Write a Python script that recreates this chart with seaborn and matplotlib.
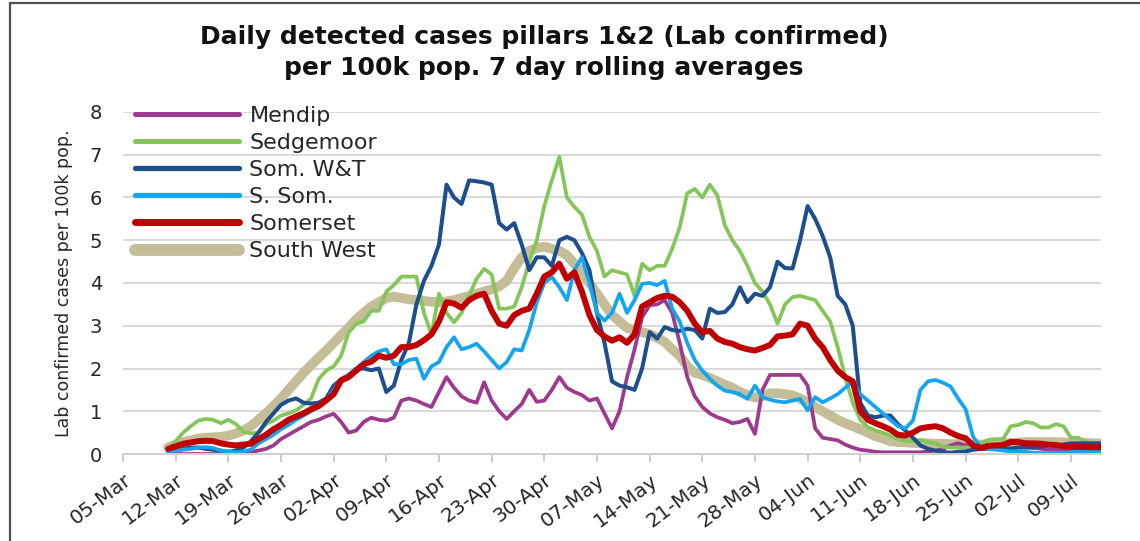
import pandas as pd
import matplotlib
matplotlib.use("Agg")
import matplotlib.pyplot as plt
import seaborn as sns
from matplotlib.lines import Line2D

# daily values 11-Mar .. 13-Jul (7 day rolling averages per 100k)
dates = pd.date_range("2020-03-11", "2020-07-13", freq="D")

mendip = [0, 0, 0, 0, 0, 0, 0, 0, 0, 0,
          0.02, 0.05, 0.08, 0.12, 0.2, 0.35, 0.45, 0.55, 0.65, 0.75,
          0.8, 0.88, 0.94, 0.75, 0.5, 0.55, 0.75, 0.85, 0.8, 0.78,
          0.85, 1.25, 1.3, 1.25, 1.17, 1.1, 1.45, 1.8, 1.55, 1.35,
          1.25, 1.2, 1.68, 1.25, 1.0, 0.82, 1.0, 1.17, 1.5, 1.22,
          1.25, 1.5, 1.8, 1.55, 1.45, 1.38, 1.25, 1.3, 0.95, 0.6,
          1.0, 1.8, 2.45, 3.2, 3.48, 3.5, 3.6, 3.3, 2.6, 1.8,
          1.35, 1.1, 0.95, 0.86, 0.8, 0.72, 0.75, 0.82, 0.47, 1.5,
          1.85, 1.85, 1.85, 1.85, 1.85, 1.6, 0.6, 0.38, 0.35, 0.32,
          0.22, 0.15, 0.1, 0.08, 0.05, 0.04, 0.04, 0.04, 0.04, 0.04,
          0.04, 0.06, 0.08, 0.12, 0.2, 0.25, 0.2, 0.15, 0.15, 0.18,
          0.2, 0.25, 0.3, 0.25, 0.2, 0.15, 0.12, 0.1, 0.1, 0.08,
          0.08, 0.08, 0.08, 0.08, 0.08]

sedgemoor = [0.12, 0.3, 0.5, 0.65, 0.78, 0.82, 0.8, 0.72, 0.8, 0.7,
             0.52, 0.48, 0.5, 0.7, 0.78, 0.9, 0.95, 1.02, 1.15, 1.3,
             1.75, 1.95, 2.05, 2.3, 2.85, 3.05, 3.1, 3.35, 3.35, 3.8,
             3.95, 4.15, 4.15, 4.15, 3.3, 2.8, 3.75, 3.3, 3.08, 3.3,
             3.7, 4.1, 4.33, 4.2, 3.4, 3.4, 3.45, 3.9, 4.5, 5.0,
             5.8, 6.4, 6.95, 6.0, 5.78, 5.6, 5.08, 4.75, 4.15, 4.3,
             4.25, 4.2, 3.7, 4.45, 4.3, 4.4, 4.4, 4.8, 5.3, 6.1,
             6.2, 6.0, 6.3, 6.05, 5.35, 5.0, 4.75, 4.4, 4.0, 3.8,
             3.5, 3.05, 3.5, 3.67, 3.7, 3.65, 3.6, 3.35, 3.1, 2.5,
             1.8, 1.2, 0.8, 0.63, 0.55, 0.5, 0.43, 0.35, 0.3, 0.3,
             0.33, 0.28, 0.25, 0.17, 0.15, 0.15, 0.15, 0.17, 0.25, 0.33,
             0.35, 0.35, 0.65, 0.68, 0.75, 0.72, 0.62, 0.62, 0.7, 0.65,
             0.38, 0.38, 0.28, 0.25, 0.25]

som_wt = [0.08, 0.1, 0.12, 0.15, 0.15, 0.12, 0.1, 0.08, 0.05, 0.08,
          0.15, 0.3, 0.5, 0.75, 0.95, 1.15, 1.25, 1.3, 1.2, 1.18,
          1.2, 1.3, 1.6, 1.75, 1.85, 2.0, 2.0, 1.96, 2.0, 1.45,
          1.6, 2.2, 2.6, 3.5, 4.05, 4.4, 4.9, 6.3, 6.0, 5.85,
          6.4, 6.38, 6.35, 6.3, 5.4, 5.25, 5.4, 4.9, 4.3, 4.6,
          4.6, 4.4, 5.0, 5.08, 5.0, 4.7, 4.3, 3.3, 2.6, 1.7,
          1.6, 1.56, 1.5, 2.0, 2.85, 2.7, 2.97, 2.9, 2.88, 2.93,
          2.9, 2.7, 3.4, 3.3, 3.32, 3.5, 3.9, 3.55, 3.75, 3.7,
          3.9, 4.5, 4.35, 4.34, 5.0, 5.8, 5.5, 5.1, 4.6, 3.7,
          3.5, 3.0, 1.2, 0.9, 0.86, 0.9, 0.9, 0.7, 0.55, 0.38,
          0.2, 0.12, 0.08, 0.05, 0.03, 0.05, 0.06, 0.1, 0.12, 0.12,
          0.12, 0.12, 0.13, 0.15, 0.15, 0.15, 0.17, 0.2, 0.2, 0.22,
          0.25, 0.25, 0.25, 0.25, 0.25]

s_som = [0.05, 0.08, 0.1, 0.12, 0.15, 0.16, 0.14, 0.08, 0.06, 0.04,
         0.06, 0.1, 0.25, 0.35, 0.45, 0.58, 0.68, 0.8, 0.9, 1.0,
         1.1, 1.25, 1.5, 1.75, 1.85, 2.0, 2.15, 2.3, 2.4, 2.45,
         2.1, 2.1, 2.2, 2.23, 1.76, 2.05, 2.15, 2.5, 2.73, 2.45,
         2.5, 2.58, 2.4, 2.2, 2.0, 2.15, 2.45, 2.42, 2.9, 3.55,
         4.0, 4.14, 3.9, 3.6, 4.3, 4.6, 4.0, 3.3, 3.12, 3.3,
         3.75, 3.3, 3.6, 3.98, 4.0, 3.95, 4.05, 3.4, 3.1, 2.6,
         2.2, 1.95, 1.76, 1.6, 1.48, 1.45, 1.4, 1.29, 1.6, 1.33,
         1.27, 1.23, 1.21, 1.25, 1.29, 1.02, 1.33, 1.21, 1.3, 1.4,
         1.55, 1.7, 1.4, 1.25, 1.1, 0.95, 0.8, 0.65, 0.6, 0.78,
         1.5, 1.7, 1.73, 1.67, 1.58, 1.3, 1.05, 0.4, 0.17, 0.12,
         0.1, 0.08, 0.06, 0.06, 0.05, 0.03, 0.02, 0.02, 0.02, 0.03,
         0.04, 0.05, 0.05, 0.06, 0.06]

somerset = [0.12, 0.18, 0.24, 0.27, 0.3, 0.31, 0.3, 0.25, 0.22, 0.2,
            0.22, 0.24, 0.35, 0.45, 0.58, 0.68, 0.8, 0.88, 0.95, 1.05,
            1.12, 1.25, 1.4, 1.72, 1.8, 1.95, 2.1, 2.16, 2.3, 2.25,
            2.3, 2.5, 2.5, 2.55, 2.66, 2.8, 3.1, 3.55, 3.52, 3.42,
            3.6, 3.7, 3.75, 3.35, 3.05, 3.0, 3.25, 3.35, 3.4, 3.75,
            4.15, 4.25, 4.45, 4.1, 4.25, 3.8, 3.25, 2.9, 2.75, 2.65,
            2.73, 2.6, 2.8, 3.45, 3.55, 3.65, 3.7, 3.68, 3.55, 3.35,
            3.05, 2.85, 2.88, 2.7, 2.62, 2.58, 2.5, 2.45, 2.42, 2.48,
            2.55, 2.75, 2.77, 2.8, 3.05, 3.0, 2.7, 2.5, 2.2, 1.95,
            1.8, 1.7, 1.0, 0.8, 0.72, 0.65, 0.57, 0.45, 0.43, 0.5,
            0.6, 0.63, 0.65, 0.6, 0.5, 0.42, 0.37, 0.2, 0.14, 0.19,
            0.2, 0.21, 0.28, 0.28, 0.25, 0.25, 0.24, 0.22, 0.21, 0.18,
            0.17, 0.17, 0.16, 0.16, 0.16]

south_west = [0.15, 0.22, 0.28, 0.32, 0.36, 0.38, 0.39, 0.4, 0.43, 0.48,
              0.55, 0.65, 0.8, 0.95, 1.12, 1.3, 1.5, 1.7, 1.9, 2.08,
              2.25, 2.42, 2.6, 2.78, 2.95, 3.15, 3.3, 3.45, 3.55, 3.65,
              3.68, 3.65, 3.62, 3.6, 3.58, 3.56, 3.55, 3.57, 3.6, 3.65,
              3.7, 3.75, 3.8, 3.85, 3.92, 4.05, 4.35, 4.6, 4.75, 4.82,
              4.85, 4.8, 4.75, 4.65, 4.45, 4.25, 4.0, 3.75, 3.5, 3.25,
              3.1, 2.95, 2.9, 2.85, 2.8, 2.72, 2.62, 2.45, 2.3, 2.05,
              1.9, 1.85, 1.78, 1.7, 1.62, 1.55, 1.45, 1.38, 1.32, 1.35,
              1.42, 1.42, 1.4, 1.37, 1.3, 1.2, 1.1, 1.0, 0.9, 0.8,
              0.72, 0.65, 0.58, 0.5, 0.42, 0.36, 0.3, 0.28, 0.27, 0.26,
              0.25, 0.25, 0.24, 0.24, 0.23, 0.23, 0.22, 0.22, 0.22, 0.23,
              0.24, 0.25, 0.26, 0.27, 0.28, 0.28, 0.28, 0.28, 0.28, 0.27,
              0.27, 0.26, 0.26, 0.25, 0.25]

labels = ["Mendip", "Sedgemoor", "Som. W&T", "S. Som.", "Somerset", "South West"]
series = [mendip, sedgemoor, som_wt, s_som, somerset, south_west]
colors = ["#9E3A8E", "#84C65A", "#1F4E8C", "#14A5F0", "#C00000", "#C4BD97"]
widths = [2.7, 2.7, 2.9, 2.7, 4.3, 7.0]
legend_widths = [3.6, 3.6, 3.8, 3.8, 5.0, 8.5]

sns.set_theme(style="white")
plt.rcParams["font.family"] = ["DejaVu Sans"]

fig = plt.figure(figsize=(11.4, 5.41), dpi=100)
ax = fig.add_axes([0.1079, 0.1608, 0.8579, 0.6322])

# South West drawn first so it sits underneath
draw_order = [5, 0, 1, 2, 3, 4]
for i in draw_order:
    sns.lineplot(x=dates, y=series[i], ax=ax, color=colors[i], linewidth=widths[i],
                 solid_joinstyle="round", solid_capstyle="round")

ax.set_xlim(pd.Timestamp("2020-03-05"), pd.Timestamp("2020-07-13"))
ax.set_ylim(0, 8)
ax.set_yticks(range(0, 9))
ax.yaxis.grid(True, color="#D9D9D9", linewidth=1.4)
ax.xaxis.grid(False)
for s in ["left", "top", "right"]:
    ax.spines[s].set_visible(False)
ax.spines["bottom"].set_color("#D0D0D0")
ax.spines["bottom"].set_linewidth(1.4)

ticks = pd.date_range("2020-03-05", "2020-07-09", freq="7D")
ax.set_xticks(ticks)
ax.set_xticklabels([d.strftime("%d-%b") for d in ticks], rotation=37, ha="right",
                   rotation_mode="anchor")
ax.tick_params(axis="x", length=6, color="#C8C8C8", width=1.3, pad=6, labelsize=14.5,
               labelcolor="#262626", bottom=True)
ax.tick_params(axis="y", length=0, pad=15, labelsize=14, labelcolor="#262626")
ax.set_xlabel("")
ax.set_ylabel("")

fig.text(64 / 1140, 1 - 283 / 541, "Lab confirmed cases per 100k pop.", rotation=90,
         ha="center", va="center", fontsize=12.5, color="#262626")

fig.text(544 / 1140, 1 - 37 / 541, "Daily detected cases pillars 1&2 (Lab confirmed)",
         ha="center", va="center", fontsize=18, fontweight="bold", color="#111111")
fig.text(544 / 1140, 1 - 68 / 541, "per 100k pop. 7 day rolling averages",
         ha="center", va="center", fontsize=18, fontweight="bold", color="#111111")

handles = [Line2D([0], [0], color=c, lw=w) for c, w in zip(colors, legend_widths)]
ax.legend(handles, labels, loc="upper left", bbox_to_anchor=(0.0123, 1.018),
          frameon=False, fontsize=16, handlelength=4.7, handletextpad=0.45,
          labelspacing=0.32, borderpad=0, borderaxespad=0, labelcolor="#262626")

# thin frame round the chart area
fig.add_artist(Line2D([10 / 1140, 1], [1 - 3 / 541, 1 - 3 / 541], transform=fig.transFigure,
                      color="#505050", lw=1.6))
fig.add_artist(Line2D([10 / 1140, 10 / 1140], [0, 1 - 3 / 541], transform=fig.transFigure,
                      color="#505050", lw=1.6))

fig.savefig("out.png", dpi=100)
